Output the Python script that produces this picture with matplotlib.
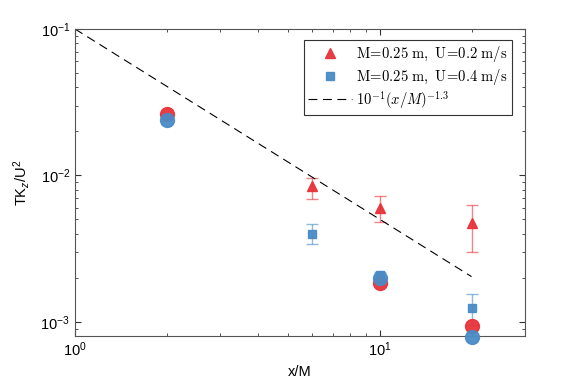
import numpy as np
import matplotlib
matplotlib.use("Agg")
import matplotlib.pyplot as plt

plt.rcParams['font.family'] = ['Liberation Sans', 'DejaVu Sans']
plt.rcParams['mathtext.fontset'] = 'custom'
plt.rcParams['mathtext.rm'] = 'Liberation Sans'
plt.rcParams['mathtext.it'] = 'Liberation Sans:italic'

# data
x_tri = [6, 10, 20]
y_tri = [0.0084, 0.0060, 0.0047]
tri_lo = [0.0069, 0.0048, 0.0030]
tri_hi = [0.0096, 0.0072, 0.0063]

x_sq = [6, 10, 20]
y_sq = [0.0040, 0.0021, 0.00125]
sq_lo = [0.0034, 0.0020, 0.00095]
sq_hi = [0.00465, 0.0022, 0.00155]

x_circ = [2, 10, 20]
y_circ_red = [0.0263, 0.00184, 0.00094]
y_circ_blue = [0.0239, 0.00199, 0.00079]

x_fit = [1, 20]

red = '#E8333A'
blue = '#4A8BC6'

fig = plt.figure(figsize=(5.81, 3.84), dpi=100)
ax = fig.add_axes([0.129, 0.125, 0.775, 0.7995])

# error bars
ax.errorbar(x_tri, y_tri,
            yerr=[np.array(y_tri) - np.array(tri_lo), np.array(tri_hi) - np.array(y_tri)],
            fmt='none', ecolor=red, alpha=0.6, capsize=4, elinewidth=1, capthick=1)
ax.errorbar(x_sq, y_sq,
            yerr=[np.array(y_sq) - np.array(sq_lo), np.array(sq_hi) - np.array(y_sq)],
            fmt='none', ecolor=blue, alpha=0.6, capsize=4, elinewidth=1, capthick=1)

h1, = ax.plot(x_tri, y_tri, '^', color=red, ms=6.5, mec=red, alpha=0.95, ls='none',
              label=r'$\mathrm{M\!=\!0.25\ m,\ U\!=\!0.2\ m/s}$')
h2, = ax.plot(x_sq, y_sq, 's', color=blue, ms=5.5, mec=blue, alpha=0.95, ls='none',
              label=r'$\mathrm{M\!=\!0.25\ m,\ U\!=\!0.4\ m/s}$')

ax.plot(x_circ, y_circ_red, 'o', color=red, ms=10, mec=red, alpha=0.95, clip_on=False, zorder=4)
ax.plot(x_circ, y_circ_blue, 'o', color=blue, ms=10, mec=blue, alpha=0.95, clip_on=False, zorder=5)

xf = np.array(x_fit, dtype=float)
h3, = ax.plot(xf, 0.1 * xf ** -1.3, color='black', lw=0.8, dashes=(8, 5),
              label=r'$10^{-1}(x/M)^{-1.3}$')

ax.set_xscale('log')
ax.set_yscale('log')
ax.set_xlim(1, 30)
ax.set_ylim(8e-4, 1e-1)

ax.tick_params(which='both', direction='in', top=True, right=True, labelsize=10.5,
               color='#333333')
ax.tick_params(which='major', length=4.5)
ax.tick_params(which='minor', length=2.5)
for s in ax.spines.values():
    s.set_color('#555555')
    s.set_linewidth(0.8)

ax.set_xlabel('x/M', fontsize=10.5, labelpad=4)
ax.set_ylabel(r'TK$_z$/U$^2$', fontsize=10.5, labelpad=6)

leg = ax.legend(handles=[h1, h2, h3], loc='upper right', fontsize=10.5,
                fancybox=False, edgecolor='#333333', framealpha=1, borderpad=0.3,
                handlelength=3.0, handletextpad=0.3, labelspacing=0.15,
                borderaxespad=0, bbox_to_anchor=(0.971, 0.964))
leg.get_frame().set_linewidth(0.8)
for t in leg.get_texts():
    t.set_math_fontfamily('cm')

fig.savefig('out.png', dpi=100)
